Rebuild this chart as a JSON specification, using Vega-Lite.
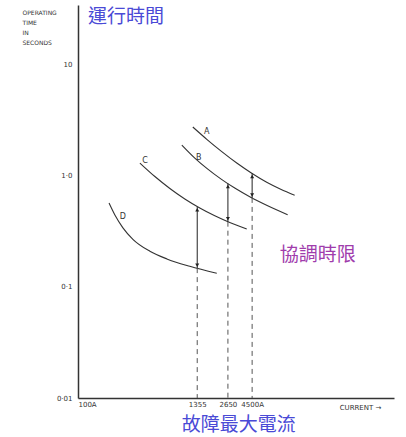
{
  "$schema": "https://vega.github.io/schema/vega-lite/v6.json",
  "width": 316,
  "height": 393,
  "autosize": {"type": "none"},
  "padding": {"left": 78, "top": 5, "right": 12, "bottom": 39},
  "background": "white",
  "config": {"view": {"stroke": null}},
  "datasets": {
    "curves": [
      {"curve": "A", "current": 1230, "time": 2.722},
      {"curve": "A", "current": 1670, "time": 2.11},
      {"curve": "A", "current": 2317, "time": 1.636},
      {"curve": "A", "current": 3215, "time": 1.292},
      {"curve": "A", "current": 4460, "time": 1.047},
      {"curve": "A", "current": 6187, "time": 0.869},
      {"curve": "A", "current": 8400, "time": 0.752},
      {"curve": "A", "current": 11400, "time": 0.664},
      {"curve": "B", "current": 968, "time": 1.876},
      {"curve": "B", "current": 1285, "time": 1.433},
      {"curve": "B", "current": 1707, "time": 1.14},
      {"curve": "B", "current": 2268, "time": 0.932},
      {"curve": "B", "current": 3077, "time": 0.77},
      {"curve": "B", "current": 4269, "time": 0.6435},
      {"curve": "B", "current": 6323, "time": 0.534},
      {"curve": "B", "current": 9784, "time": 0.4436},
      {"curve": "C", "current": 387, "time": 1.292},
      {"curve": "C", "current": 537, "time": 0.9775},
      {"curve": "C", "current": 745, "time": 0.763},
      {"curve": "C", "current": 1033, "time": 0.614},
      {"curve": "C", "current": 1433, "time": 0.5094},
      {"curve": "C", "current": 1989, "time": 0.4335},
      {"curve": "C", "current": 2759, "time": 0.3774},
      {"curve": "C", "current": 3999, "time": 0.33},
      {"curve": "D", "current": 197, "time": 0.565},
      {"curve": "D", "current": 224, "time": 0.4407},
      {"curve": "D", "current": 267, "time": 0.3382},
      {"curve": "D", "current": 332, "time": 0.2667},
      {"curve": "D", "current": 481, "time": 0.2084},
      {"curve": "D", "current": 698, "time": 0.1778},
      {"curve": "D", "current": 1152, "time": 0.1526},
      {"curve": "D", "current": 2078, "time": 0.1319}
    ],
    "arrows": [
      {"current": 1355, "top": 0.52, "bottom": 0.147},
      {"current": 2650, "top": 0.846, "bottom": 0.384},
      {"current": 4500, "top": 1.042, "bottom": 0.628}
    ],
    "heads": [
      {"current": 1355, "time": 0.491, "dir": "triangle-up"},
      {"current": 1355, "time": 0.1557, "dir": "triangle-down"},
      {"current": 2650, "time": 0.795, "dir": "triangle-up"},
      {"current": 2650, "time": 0.4083, "dir": "triangle-down"},
      {"current": 4500, "time": 0.98, "dir": "triangle-up"},
      {"current": 4500, "time": 0.668, "dir": "triangle-down"}
    ],
    "curveLabels": [
      {"current": 1671, "time": 2.45, "label": "A"},
      {"current": 1403, "time": 1.43, "label": "B"},
      {"current": 432, "time": 1.35, "label": "C"},
      {"current": 267, "time": 0.423, "label": "D"}
    ],
    "notes": [
      {"current": 285, "time": 26.5, "label": "運行時間", "kind": "blue", "size": 19},
      {"current": 18840, "time": 0.193, "label": "協調時限", "kind": "purple", "size": 19},
      {"current": 3358, "time": 0.00572, "label": "故障最大電流", "kind": "blue", "size": 19}
    ]
  },
  "encoding": {
    "x": {
      "field": "current",
      "type": "quantitative",
      "scale": {"type": "log", "domain": [100, 100000]},
      "axis": {
        "values": [100, 1355, 2650, 4500],
        "labelExpr": "datum.value == 100 ? '100A' : datum.value == 4500 ? '4500A' : format(datum.value, 'd')",
        "labelFlush": true,
        "labelFont": "DejaVu Sans",
        "labelFontSize": 7,
        "labelColor": "#333",
        "labelPadding": 2,
        "ticks": false,
        "grid": false,
        "domainColor": "#333",
        "domainWidth": 1.5,
        "title": "CURRENT →",
        "titleFont": "DejaVu Sans",
        "titleFontSize": 7,
        "titleFontWeight": "normal",
        "titleColor": "#333",
        "titleX": 282,
        "titleY": 9,
        "titleAlign": "center",
        "titleBaseline": "middle"
      }
    },
    "y": {
      "field": "time",
      "type": "quantitative",
      "scale": {"type": "log", "domain": [0.01, 34]},
      "axis": {
        "values": [0.01, 0.1, 1, 10],
        "labelExpr": "datum.value >= 5 ? '10' : datum.value >= 0.5 ? '1·0' : datum.value >= 0.05 ? '0·1' : '0·01'",
        "labelFont": "DejaVu Sans",
        "labelFontSize": 7,
        "labelColor": "#333",
        "labelPadding": 6,
        "ticks": false,
        "grid": false,
        "domainColor": "#333",
        "domainWidth": 1.5,
        "title": ["OPERATING", "TIME", "IN", "SECONDS"],
        "titleFont": "DejaVu Sans",
        "titleFontSize": 6,
        "titleFontWeight": "normal",
        "titleColor": "#333",
        "titleAngle": 0,
        "titleAlign": "left",
        "titleBaseline": "top",
        "titleLineHeight": 10,
        "titleX": -56,
        "titleY": 4
      }
    }
  },
  "layer": [
    {
      "data": {"name": "curves"},
      "mark": {"type": "line", "interpolate": "monotone", "color": "#333", "strokeWidth": 1.1},
      "encoding": {"detail": {"field": "curve"}, "order": {"field": "current", "type": "quantitative"}}
    },
    {
      "data": {"name": "arrows"},
      "mark": {"type": "rule", "color": "#555", "strokeWidth": 1, "strokeDash": [5, 4]},
      "encoding": {"y": {"field": "bottom", "type": "quantitative"}, "y2": {"datum": 0.01}}
    },
    {
      "data": {"name": "arrows"},
      "mark": {"type": "rule", "color": "#222", "strokeWidth": 1},
      "encoding": {"y": {"field": "top", "type": "quantitative"}, "y2": {"field": "bottom"}}
    },
    {
      "data": {"name": "heads"},
      "mark": {"type": "point", "filled": true, "color": "#222", "size": 16, "opacity": 1},
      "encoding": {"shape": {"field": "dir", "type": "nominal", "scale": null}}
    },
    {
      "data": {"name": "curveLabels"},
      "mark": {"type": "text", "font": "DejaVu Sans", "fontSize": 8, "color": "#333"},
      "encoding": {"text": {"field": "label"}}
    },
    {
      "data": {"name": "notes"},
      "mark": {"type": "text", "font": "Noto Sans CJK TC", "baseline": "middle"},
      "encoding": {
        "text": {"field": "label"},
        "size": {"field": "size", "type": "quantitative", "scale": null},
        "color": {"field": "kind", "type": "nominal", "scale": {"domain": ["blue", "purple"], "range": ["#4a4ad6", "#a03cac"]}, "legend": null}
      }
    }
  ]
}
